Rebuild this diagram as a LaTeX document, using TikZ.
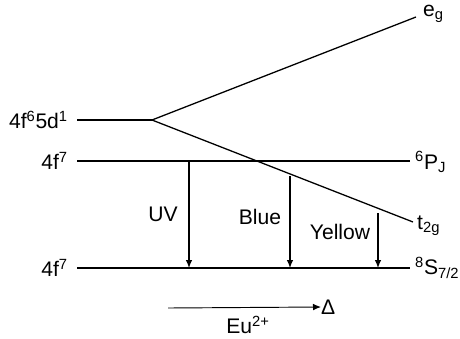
\documentclass[tikz,border=0pt]{standalone}
\usepackage{fontspec}
\setmainfont{Liberation Sans}
\usetikzlibrary{arrows.meta}
\tikzset{
  level/.style={line width=1.1pt},
  trans/.style={line width=1.1pt,-{Latex[length=2.4mm,width=2mm]}},
  lbl/.style={inner sep=0pt,font=\fontsize{18}{21}\selectfont}
}
\begin{document}
\begin{tikzpicture}[x=0.03cm,y=-0.03cm]
\useasboundingbox (0,0) rectangle (460,338);
% level end points
\coordinate (dL) at (77,120);
\coordinate (split) at (152,120);
\coordinate (egR) at (416,17);
\coordinate (tR) at (413,222);
\coordinate (pL) at (77,161);
\coordinate (pR) at (410,161);
\coordinate (sL) at (77,268);
\coordinate (sR) at (410,268);
\draw[level] (dL) -- (split);
\draw[level] (split) -- (egR);
\draw[level] (split) -- (tR);
\draw[level] (pL) -- (pR);
\draw[level] (sL) -- (sR);
% left labels
\node[lbl,anchor=east] (dlab) at (68,120) {4f\textsuperscript{6}5d\textsuperscript{1}};
\node[lbl,anchor=east] (plab) at (68,161) {4f\textsuperscript{7}};
\node[lbl,anchor=east] (slab) at (68,268) {4f\textsuperscript{7}};
% right labels
\node[lbl,anchor=west] (eglab) at (423,14) {e\textsubscript{g}};
\node[lbl,anchor=west] (tlab) at (417,226) {t\textsubscript{2g}};
\node[lbl,anchor=west] (pjlab) at (415,162) {\textsuperscript{6}P\textsubscript{J}};
\node[lbl,anchor=west] (s72lab) at (415,268) {\textsuperscript{8}S\textsubscript{7/2}};
% emission and absorption
\coordinate (uvT) at (189,161);
\coordinate (uvB) at (189,268);
\coordinate (blT) at (290,176);
\coordinate (blB) at (290,268);
\coordinate (yeT) at (378,213);
\coordinate (yeB) at (378,268);
\draw[trans] (uvT) -- (uvB);
\draw[trans] (blT) -- (blB);
\draw[trans] (yeT) -- (yeB);
\node[lbl] (uv) at (163,214) {UV};
\node[lbl] (blue) at (260,217) {Blue};
\node[lbl] (yellow) at (340,232) {Yellow};
% crystal field axis
\coordinate (ax) at (168,308);
\node[lbl,anchor=west] (delta) at (321,307) {Δ};
\draw[line width=0.8pt,-{Latex[length=2.4mm,width=2mm]}] (ax) -- (delta.west);
\node[lbl] (eu) at (248,325) {Eu\textsuperscript{2+}};
\end{tikzpicture}
\end{document}
